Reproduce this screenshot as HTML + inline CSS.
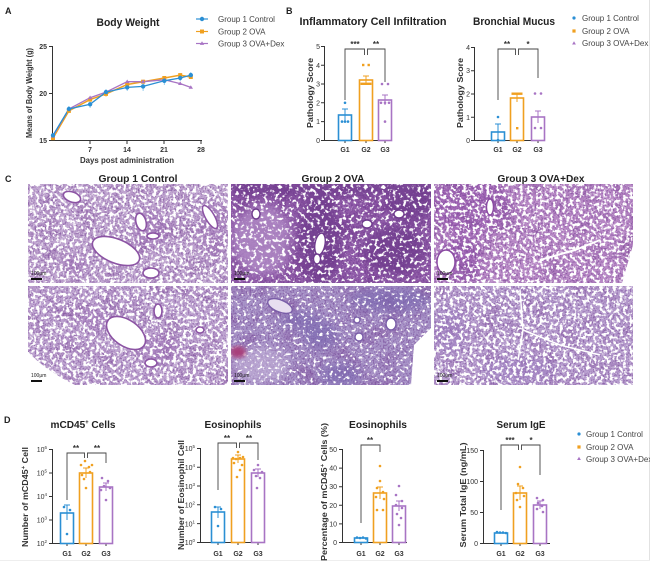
<!DOCTYPE html>
<html><head><meta charset="utf-8"><style>
html,body{margin:0;padding:0;background:#fff;}
svg{display:block;font-family:"Liberation Sans",sans-serif;}
.t{font-weight:bold;fill:#222;}
.tk{font-size:7px;fill:#333;}
.yl{font-size:8px;font-weight:bold;fill:#333;}
.lg{font-size:8px;fill:#444;}
.ax{stroke:#333;stroke-width:1;fill:none;}
.br{stroke:#444;stroke-width:0.9;fill:none;}
.st{font-size:8px;font-weight:bold;fill:#333;text-anchor:middle;}
.sb{font-size:5px;fill:#222;}
</style></head><body>
<svg width="650" height="561" viewBox="0 0 650 561" xmlns="http://www.w3.org/2000/svg">
<defs>
<filter id="hD" x="0" y="0" width="1" height="1" color-interpolation-filters="sRGB">
<feTurbulence type="fractalNoise" baseFrequency="0.3" numOctaves="2" seed="3"/>
<feColorMatrix type="matrix" values="0 0 0 0 1 0 0 0 0 1 0 0 0 0 1 8 0 0 0 -4.0"/>
</filter>
<filter id="hM" x="0" y="0" width="1" height="1" color-interpolation-filters="sRGB">
<feTurbulence type="fractalNoise" baseFrequency="0.28" numOctaves="2" seed="7"/>
<feColorMatrix type="matrix" values="0 0 0 0 1 0 0 0 0 1 0 0 0 0 1 8 0 0 0 -4.4"/>
</filter>
<filter id="hS" x="0" y="0" width="1" height="1" color-interpolation-filters="sRGB">
<feTurbulence type="fractalNoise" baseFrequency="0.3" numOctaves="2" seed="11"/>
<feColorMatrix type="matrix" values="0 0 0 0 1 0 0 0 0 1 0 0 0 0 1 8 0 0 0 -4.7"/>
</filter>
<filter id="grain" x="0" y="0" width="1" height="1" color-interpolation-filters="sRGB">
<feTurbulence type="fractalNoise" baseFrequency="0.6" numOctaves="1" seed="9"/>
<feColorMatrix type="matrix" values="0 0 0 0 0.42 0 0 0 0 0.22 0 0 0 0 0.55 5 0 0 0 -2.4"/>
</filter>
<filter id="mot" x="0" y="0" width="1" height="1" color-interpolation-filters="sRGB">
<feTurbulence type="fractalNoise" baseFrequency="0.05" numOctaves="3" seed="5"/>
<feColorMatrix type="matrix" values="0 0 0 0 0.45 0 0 0 0 0.22 0 0 0 0 0.55 3 0 0 0 -1.4"/>
</filter>
<filter id="bl"><feGaussianBlur stdDeviation="5"/></filter>
<filter id="bl2"><feGaussianBlur stdDeviation="2"/></filter>
<clipPath id="c1"><rect x="28" y="184" width="200" height="99"/></clipPath>
<clipPath id="c2"><rect x="231" y="184" width="200" height="99"/></clipPath>
<clipPath id="c3"><rect x="434" y="184" width="199" height="99"/></clipPath>
<clipPath id="c4"><rect x="28" y="286" width="200" height="99"/></clipPath>
<clipPath id="c5"><rect x="231" y="286" width="200" height="99"/></clipPath>
<clipPath id="c6"><rect x="434" y="286" width="199" height="99"/></clipPath>
</defs>

<!-- frame lines -->
<line x1="649.5" y1="0" x2="649.5" y2="561" stroke="#e2e2e2"/>
<line x1="0" y1="560.5" x2="650" y2="560.5" stroke="#eeeeee"/>

<!-- panel letters -->
<text x="5" y="14" class="t" font-size="9">A</text>
<text x="286" y="14" class="t" font-size="9">B</text>
<text x="5" y="182" class="t" font-size="9">C</text>
<text x="4" y="423" class="t" font-size="9">D</text>

<!-- ============ A: Body weight ============ -->
<text x="128" y="26" class="t" font-size="11" text-anchor="middle" textLength="63" lengthAdjust="spacingAndGlyphs">Body Weight</text>
<path class="ax" d="M52.5,46 V140.5 H202"/>
<path class="ax" d="M49,46.5 H52.5 M49,93.5 H52.5 M49,140.5 H52.5 M90,140.5 V144 M127,140.5 V144 M164,140.5 V144 M201,140.5 V144"/>
<g class="tk" text-anchor="end" font-weight="bold"><text x="47" y="49">25</text><text x="47" y="96">20</text><text x="47" y="143">15</text></g>
<g class="tk" text-anchor="middle" font-weight="bold"><text x="90" y="152">7</text><text x="127" y="152">14</text><text x="164" y="152">21</text><text x="201" y="152">28</text></g>
<text x="127" y="163" class="yl" font-size="7" text-anchor="middle" textLength="94" lengthAdjust="spacingAndGlyphs">Days post administration</text>
<text transform="translate(32,93) rotate(-90)" class="yl" font-size="7" text-anchor="middle" textLength="90" lengthAdjust="spacingAndGlyphs">Means of Body Weight (g)</text>
<g stroke="#7cc0ea" stroke-width="0.8">
<path d="M68.9,106 V112 M90.1,101 V108 M106,89 V95 M127.2,83 V91 M143.1,82 V91 M164.3,77 V85 M180.2,75 V81 M190.8,72 V78"/>
</g>
<g stroke="#f6c777" stroke-width="0.8"><path d="M90.1,97 V102 M106,91 V97 M164.3,76 V80 M180.2,73 V77"/></g>
<polyline fill="none" stroke="#f0a020" stroke-width="1.5" points="53,138.1 68.9,110.9 90.1,99.6 106,93.9 127.2,84.5 143.1,81.7 164.3,78 180.2,75.1 190.8,77"/>
<polyline fill="none" stroke="#a874c4" stroke-width="1.3" points="53,136.2 68.9,109 90.1,97.7 106,92.1 127.2,81.7 143.1,81.7 164.3,79.8 180.2,83.6 190.8,87.4"/>
<polyline fill="none" stroke="#2b8fd4" stroke-width="1.3" points="53,135.3 68.9,109 90.1,104.3 106,92.1 127.2,87.4 143.1,86.4 164.3,80.8 180.2,78 190.8,75.1"/>
<g fill="#f0a020"><rect x="51" y="136.1" width="4" height="4"/><rect x="66.9" y="108.9" width="4" height="4"/><rect x="88.1" y="97.6" width="4" height="4"/><rect x="104" y="91.9" width="4" height="4"/><rect x="125.2" y="82.5" width="4" height="4"/><rect x="141.1" y="79.7" width="4" height="4"/><rect x="162.3" y="76" width="4" height="4"/><rect x="178.2" y="73.1" width="4" height="4"/><rect x="188.8" y="75" width="4" height="4"/></g>
<g fill="#a874c4"><path d="M53,134 l2.2,3.6 h-4.4z M68.9,106.8 l2.2,3.6 h-4.4z M90.1,95.5 l2.2,3.6 h-4.4z M106,89.9 l2.2,3.6 h-4.4z M127.2,79.5 l2.2,3.6 h-4.4z M143.1,79.5 l2.2,3.6 h-4.4z M164.3,77.6 l2.2,3.6 h-4.4z M180.2,81.4 l2.2,3.6 h-4.4z M190.8,85.2 l2.2,3.6 h-4.4z"/></g>
<g fill="#2b8fd4"><circle cx="53" cy="135.3" r="2.2"/><circle cx="68.9" cy="109" r="2.2"/><circle cx="90.1" cy="104.3" r="2.2"/><circle cx="106" cy="92.1" r="2.2"/><circle cx="127.2" cy="87.4" r="2.2"/><circle cx="143.1" cy="86.4" r="2.2"/><circle cx="164.3" cy="80.8" r="2.2"/><circle cx="180.2" cy="78" r="2.2"/><circle cx="190.8" cy="75.1" r="2.2"/></g>
<line x1="196" y1="19" x2="208" y2="19" stroke="#2b8fd4" stroke-width="1.2"/><circle cx="202" cy="19" r="2.2" fill="#2b8fd4"/>
<line x1="196" y1="31.5" x2="208" y2="31.5" stroke="#f0a020" stroke-width="1.2"/><rect x="200" y="29.5" width="4" height="4" fill="#f0a020"/>
<line x1="196" y1="43.5" x2="208" y2="43.5" stroke="#a874c4" stroke-width="1.2"/><path d="M202,41.3 l2.2,3.6 h-4.4z" fill="#a874c4"/>
<g class="lg"><text x="218" y="22">Group 1 Control</text><text x="218" y="34.5">Group 2 OVA</text><text x="218" y="46.5">Group 3 OVA+Dex</text></g>

<!-- ============ B1 Inflammatory ============ -->
<text x="373" y="25" class="t" font-size="11" text-anchor="middle" textLength="147" lengthAdjust="spacingAndGlyphs">Inflammatory Cell Infiltration</text>
<path class="ax" d="M324.5,46 V140.5 H392"/>
<path class="ax" d="M321,46.5 H324.5 M321,65.2 H324.5 M321,84 H324.5 M321,102.8 H324.5 M321,121.6 H324.5 M321,140.5 H324.5 M345,140.5 V143 M366,140.5 V143 M385,140.5 V143"/>
<g class="tk" text-anchor="end"><text x="320" y="49">5</text><text x="320" y="68">4</text><text x="320" y="86.5">3</text><text x="320" y="105.5">2</text><text x="320" y="124">1</text><text x="320" y="143">0</text></g>
<g class="tk" text-anchor="middle" font-weight="bold"><text x="345" y="152">G1</text><text x="366" y="152">G2</text><text x="385" y="152">G3</text></g>
<text transform="translate(313,93) rotate(-90)" class="yl" font-size="9" text-anchor="middle" textLength="70" lengthAdjust="spacingAndGlyphs">Pathology Score</text>
<rect x="338.5" y="115" width="13" height="25.5" fill="none" stroke="#2b8fd4" stroke-width="1.6"/>
<rect x="359.5" y="80" width="13" height="60.5" fill="none" stroke="#f0a020" stroke-width="1.6"/>
<rect x="378.5" y="100" width="13" height="40.5" fill="none" stroke="#a874c4" stroke-width="1.6"/>
<path d="M345,109 V121 M342,109 H348" stroke="#2b8fd4" stroke-width="1"/>
<path d="M366,76 V84 M363,76 H369" stroke="#f0a020" stroke-width="1"/>
<path d="M385,95 V105 M382,95 H388" stroke="#a874c4" stroke-width="1"/>
<g fill="#2b8fd4"><circle cx="342" cy="121.6" r="1.3"/><circle cx="345" cy="121.6" r="1.3"/><circle cx="348" cy="121.6" r="1.3"/><circle cx="345" cy="102.8" r="1.3"/></g>
<g fill="#f0a020"><rect x="362" y="63.8" width="2.4" height="2.4"/><rect x="367.5" y="63.8" width="2.4" height="2.4"/><rect x="360.5" y="82.6" width="11" height="2.4"/></g>
<g fill="#a874c4"><circle cx="382" cy="84" r="1.3"/><circle cx="388" cy="84" r="1.3"/><circle cx="381" cy="102.8" r="1.3"/><circle cx="385" cy="102.8" r="1.3"/><circle cx="389" cy="102.8" r="1.3"/><circle cx="385" cy="121.6" r="1.3"/></g>
<path class="br" d="M345,100 V49 H364.5 V55 M367.5,55 V49 H385 V82"/>
<text x="355" y="47" class="st">***</text><text x="376" y="47" class="st">**</text>

<!-- ============ B2 Bronchial ============ -->
<text x="514" y="25" class="t" font-size="11" text-anchor="middle" textLength="82" lengthAdjust="spacingAndGlyphs">Bronchial Mucus</text>
<path class="ax" d="M474.5,47 V140.5 H545"/>
<path class="ax" d="M471,47.5 H474.5 M471,70.7 H474.5 M471,94 H474.5 M471,117.2 H474.5 M471,140.5 H474.5 M498,140.5 V143 M517,140.5 V143 M538,140.5 V143"/>
<g class="tk" text-anchor="end"><text x="470" y="50">4</text><text x="470" y="73">3</text><text x="470" y="96.5">2</text><text x="470" y="120">1</text><text x="470" y="143">0</text></g>
<g class="tk" text-anchor="middle" font-weight="bold"><text x="498" y="152">G1</text><text x="517" y="152">G2</text><text x="538" y="152">G3</text></g>
<text transform="translate(463,93) rotate(-90)" class="yl" font-size="9" text-anchor="middle" textLength="70" lengthAdjust="spacingAndGlyphs">Pathology Score</text>
<rect x="491.5" y="132" width="13" height="8.5" fill="none" stroke="#2b8fd4" stroke-width="1.6"/>
<rect x="510.5" y="98" width="13" height="42.5" fill="none" stroke="#f0a020" stroke-width="1.6"/>
<rect x="531.5" y="117" width="13" height="23.5" fill="none" stroke="#a874c4" stroke-width="1.6"/>
<path d="M498,124 V140 M495,124 H501" stroke="#2b8fd4" stroke-width="1"/>
<path d="M517,94 V102 M514,94 H520" stroke="#f0a020" stroke-width="1"/>
<path d="M538,111 V123 M535,111 H541" stroke="#a874c4" stroke-width="1"/>
<g fill="#2b8fd4"><circle cx="498" cy="117" r="1.3"/><circle cx="498" cy="140" r="1.3"/></g>
<g fill="#f0a020"><rect x="511.5" y="92.5" width="11" height="2.4"/><rect x="516" y="127" width="2.4" height="2.4"/></g>
<g fill="#a874c4"><circle cx="535" cy="93.5" r="1.3"/><circle cx="541" cy="93.5" r="1.3"/><circle cx="535" cy="128" r="1.3"/><circle cx="541" cy="128" r="1.3"/></g>
<path class="br" d="M498,100 V49 H515.5 V55 M518.5,55 V49 H538 V78"/>
<text x="507" y="47" class="st">**</text><text x="528" y="47" class="st">*</text>
<circle cx="574" cy="18" r="1.6" fill="#2b8fd4"/><rect x="572.4" y="29.4" width="3.2" height="3.2" fill="#f0a020"/><path d="M574,41.3 l1.9,3.2 h-3.8z" fill="#a874c4"/>
<g class="lg"><text x="582" y="21">Group 1 Control</text><text x="582" y="34">Group 2 OVA</text><text x="582" y="46">Group 3 OVA+Dex</text></g>

<!-- ============ C: histology ============ -->
<text x="138" y="182" class="t" font-size="10.5" text-anchor="middle" textLength="79" lengthAdjust="spacingAndGlyphs">Group 1 Control</text>
<text x="333" y="182" class="t" font-size="10.5" text-anchor="middle" textLength="63" lengthAdjust="spacingAndGlyphs">Group 2 OVA</text>
<text x="541" y="182" class="t" font-size="10.5" text-anchor="middle" textLength="87" lengthAdjust="spacingAndGlyphs">Group 3 OVA+Dex</text>

<!-- P1 top -->
<g clip-path="url(#c1)">
<rect x="28" y="184" width="200" height="99" fill="#c2a8d2"/>
<rect x="28" y="184" width="200" height="99" filter="url(#mot)" opacity="0.3"/>
<rect x="28" y="184" width="200" height="99" filter="url(#grain)" opacity="0.5"/>
<g filter="url(#bl)" fill="#9a6cb2" opacity="0.5"><ellipse cx="150" cy="230" rx="18" ry="20"/><ellipse cx="212" cy="230" rx="14" ry="30"/><ellipse cx="75" cy="265" rx="14" ry="10"/></g>
<rect x="28" y="184" width="200" height="99" filter="url(#hD)"/>
<g fill="#fff" stroke="#8c54a4" stroke-width="1.6">
<ellipse cx="116" cy="251" rx="25" ry="12" transform="rotate(22 116 251)"/>
<ellipse cx="141" cy="222" rx="5" ry="9" transform="rotate(-15 141 222)"/>
<ellipse cx="153" cy="236" rx="6" ry="3"/>
<ellipse cx="210" cy="217" rx="4.5" ry="13" transform="rotate(-30 210 217)"/>
<ellipse cx="151" cy="273" rx="8" ry="5"/>
<ellipse cx="72" cy="197" rx="9" ry="5" transform="rotate(20 72 197)"/>
</g>
<rect x="31" y="278" width="11" height="2" fill="#111"/><text x="31" y="275" class="sb">100μm</text>
</g>
<!-- P2 top -->
<g clip-path="url(#c2)">
<rect x="231" y="184" width="200" height="99" fill="#935fab"/>
<rect x="231" y="184" width="200" height="99" filter="url(#mot)" opacity="0.6"/>
<rect x="231" y="184" width="200" height="99" filter="url(#grain)" opacity="0.6"/>
<g filter="url(#bl)" fill="#6e3a8c" opacity="0.75"><rect x="231" y="182" width="200" height="14"/><ellipse cx="320" cy="240" rx="22" ry="45"/><ellipse cx="395" cy="250" rx="30" ry="25"/><ellipse cx="410" cy="205" rx="22" ry="16"/></g>
<g filter="url(#bl)" fill="#b894cc" opacity="0.7"><ellipse cx="262" cy="240" rx="30" ry="35"/></g>
<rect x="231" y="184" width="200" height="99" filter="url(#hM)"/>
<g fill="#fff" stroke="#6e3a8c" stroke-width="1.4">
<ellipse cx="320" cy="244" rx="5" ry="11" transform="rotate(10 320 244)"/>
<ellipse cx="317" cy="259" rx="3.5" ry="5"/>
<ellipse cx="399" cy="214" rx="5" ry="4"/>
<ellipse cx="367" cy="224" rx="5" ry="4"/>
<ellipse cx="256" cy="214" rx="4" ry="5"/>
</g>
<rect x="234" y="278" width="11" height="2" fill="#111"/><text x="234" y="275" class="sb">100μm</text>
</g>
<!-- P3 top -->
<g clip-path="url(#c3)">
<rect x="434" y="184" width="199" height="99" fill="#bb8cc8"/>
<g filter="url(#bl)" fill="#9a5cb0" opacity="0.7"><ellipse cx="470" cy="205" rx="40" ry="30"/><ellipse cx="460" cy="260" rx="22" ry="25"/></g>
<rect x="434" y="184" width="199" height="99" filter="url(#mot)" opacity="0.3"/>
<rect x="434" y="184" width="199" height="99" filter="url(#grain)" opacity="0.5"/>
<rect x="434" y="184" width="199" height="99" filter="url(#hD)"/>
<g fill="#fff" stroke="#8a4aa2" stroke-width="1.4">
<ellipse cx="446" cy="262" rx="9" ry="12"/>
<ellipse cx="490" cy="207" rx="3.5" ry="8"/>
</g>
<path d="M633,245 L622,283 H633z" fill="#fff"/>
<path d="M540,260 L575,250 L600,240" stroke="#fff" stroke-width="2" fill="none"/>
<rect x="437" y="278" width="11" height="2" fill="#111"/><text x="437" y="275" class="sb">100μm</text>
</g>
<!-- P1 bottom -->
<g clip-path="url(#c4)">
<rect x="28" y="286" width="200" height="99" fill="#c0a6d2"/>
<rect x="28" y="286" width="200" height="99" filter="url(#mot)" opacity="0.3"/>
<rect x="28" y="286" width="200" height="99" filter="url(#grain)" opacity="0.5"/>
<g filter="url(#bl)" fill="#9a6cb2" opacity="0.45"><ellipse cx="95" cy="320" rx="20" ry="12"/><ellipse cx="160" cy="350" rx="20" ry="15"/></g>
<rect x="28" y="286" width="200" height="99" filter="url(#hD)"/>
<g fill="#fff" stroke="#8c54a4" stroke-width="1.6">
<ellipse cx="126" cy="333" rx="22" ry="13" transform="rotate(35 126 333)"/>
<ellipse cx="158" cy="311" rx="4" ry="7"/>
<ellipse cx="151" cy="363" rx="6" ry="4"/>
<ellipse cx="200" cy="330" rx="4" ry="3"/>
</g>
<path d="M28,352 Q45,370 75,385 H28z" fill="#fff"/>
<rect x="31" y="380" width="11" height="2" fill="#111"/><text x="31" y="377" class="sb">100μm</text>
</g>
<!-- P2 bottom -->
<g clip-path="url(#c5)">
<rect x="231" y="286" width="200" height="99" fill="#a894c8"/>
<rect x="231" y="286" width="200" height="99" filter="url(#mot)" opacity="0.35"/>
<rect x="231" y="286" width="200" height="99" filter="url(#grain)" opacity="0.5"/>
<g filter="url(#bl)" fill="#7a68b0" opacity="0.65"><ellipse cx="320" cy="335" rx="18" ry="14"/><ellipse cx="340" cy="375" rx="20" ry="12"/><ellipse cx="300" cy="320" rx="20" ry="8"/><ellipse cx="390" cy="300" rx="40" ry="12"/></g>
<g filter="url(#bl)" fill="#c8b8dc" opacity="0.6"><ellipse cx="260" cy="365" rx="28" ry="18"/></g>
<rect x="231" y="286" width="200" height="99" filter="url(#hS)"/>
<g filter="url(#bl2)"><ellipse cx="238" cy="352" rx="8" ry="6" fill="#a8407c"/></g>
<g fill="#fff" stroke="#7a5ea8" stroke-width="1.4">
<ellipse cx="280" cy="306" rx="13" ry="6" transform="rotate(22 280 306)" fill="#e8def0"/>
<ellipse cx="359" cy="337" rx="4" ry="4"/>
<ellipse cx="391" cy="324" rx="5" ry="6"/>
<ellipse cx="357" cy="320" rx="3" ry="3"/>
</g>
<path d="M431,328 L414,345 L411,385 H431z" fill="#fff"/>
<rect x="234" y="380" width="11" height="2" fill="#111"/><text x="234" y="377" class="sb">100μm</text>
</g>
<!-- P3 bottom -->
<g clip-path="url(#c6)">
<rect x="434" y="286" width="199" height="99" fill="#b9a0d0"/>
<rect x="434" y="286" width="199" height="99" filter="url(#mot)" opacity="0.25"/>
<rect x="434" y="286" width="199" height="99" filter="url(#grain)" opacity="0.5"/>
<g filter="url(#bl)" fill="#9a7ac0" opacity="0.45"><ellipse cx="520" cy="370" rx="40" ry="12"/><ellipse cx="450" cy="330" rx="15" ry="25"/></g>
<rect x="434" y="286" width="199" height="99" filter="url(#hD)"/>
<path d="M520,290 L523,330 L518,360 M523,330 L560,345 L600,355" stroke="#fff" stroke-width="1.5" fill="none"/>
<rect x="437" y="380" width="11" height="2" fill="#111"/><text x="437" y="377" class="sb">100μm</text>
</g>

<!-- ============ D1 mCD45 ============ -->
<text x="83" y="428" class="t" font-size="10.5" text-anchor="middle" textLength="65" lengthAdjust="spacingAndGlyphs">mCD45<tspan font-size="6" dy="-4">+</tspan><tspan dy="4"> Cells</tspan></text>
<path class="ax" d="M52.5,449 V543.5 H113"/>
<path class="ax" d="M49,449.5 H52.5 M49,473 H52.5 M49,496.5 H52.5 M49,520 H52.5 M49,543.5 H52.5 M67,543.5 V546 M86,543.5 V546 M106,543.5 V546"/>
<g class="tk" text-anchor="end" font-size="6.5"><text x="47" y="452">10<tspan font-size="4.5" dy="-3">6</tspan></text><text x="47" y="475.5">10<tspan font-size="4.5" dy="-3">5</tspan></text><text x="47" y="499">10<tspan font-size="4.5" dy="-3">4</tspan></text><text x="47" y="522.5">10<tspan font-size="4.5" dy="-3">3</tspan></text><text x="47" y="546">10<tspan font-size="4.5" dy="-3">2</tspan></text></g>
<g class="tk" text-anchor="middle" font-weight="bold"><text x="67" y="556">G1</text><text x="86" y="556">G2</text><text x="106" y="556">G3</text></g>
<text transform="translate(28,497) rotate(-90)" class="yl" font-size="8.5" text-anchor="middle" textLength="100" lengthAdjust="spacingAndGlyphs">Number of mCD45<tspan font-size="5.5" dy="-3">+</tspan><tspan dy="3"> Cell</tspan></text>
<rect x="60.5" y="513" width="13" height="30.5" fill="none" stroke="#2b8fd4" stroke-width="1.6"/>
<rect x="79.5" y="473" width="13" height="70.5" fill="none" stroke="#f0a020" stroke-width="1.6"/>
<rect x="99.5" y="487" width="13" height="56.5" fill="none" stroke="#a874c4" stroke-width="1.6"/>
<path d="M67,505 V520 M64,505 H70" stroke="#2b8fd4"/><path d="M86,468 V478 M83,468 H89" stroke="#f0a020"/><path d="M106,483 V491 M103,483 H109" stroke="#a874c4"/>
<g fill="#2b8fd4"><circle cx="64" cy="507" r="1.3"/><circle cx="70" cy="510" r="1.3"/><circle cx="67" cy="534" r="1.3"/></g>
<g fill="#f0a020"><circle cx="81" cy="465" r="1.3"/><circle cx="85" cy="461" r="1.3"/><circle cx="89" cy="467" r="1.3"/><circle cx="92" cy="465" r="1.3"/><circle cx="82" cy="475" r="1.3"/><circle cx="90" cy="472" r="1.3"/><circle cx="86" cy="488" r="1.3"/><circle cx="84" cy="479" r="1.3"/></g>
<g fill="#a874c4"><circle cx="102" cy="478" r="1.3"/><circle cx="108" cy="481" r="1.3"/><circle cx="104" cy="486" r="1.3"/><circle cx="110" cy="488" r="1.3"/><circle cx="106" cy="500" r="1.3"/><circle cx="101" cy="490" r="1.3"/></g>
<path class="br" d="M67,500 V453 H84.5 V458 M87.5,458 V453 H106 V463"/>
<text x="76" y="451" class="st">**</text><text x="97" y="451" class="st">**</text>

<!-- ============ D2 Eosinophils count ============ -->
<text x="233" y="428" class="t" font-size="10.5" text-anchor="middle" textLength="57" lengthAdjust="spacingAndGlyphs">Eosinophils</text>
<path class="ax" d="M200.5,448 V542.5 H265"/>
<path class="ax" d="M197,448.5 H200.5 M197,467.3 H200.5 M197,486 H200.5 M197,504.8 H200.5 M197,523.6 H200.5 M197,542.5 H200.5 M218,542.5 V545 M238,542.5 V545 M258,542.5 V545"/>
<g class="tk" text-anchor="end" font-size="6.5"><text x="195" y="451">10<tspan font-size="4.5" dy="-3">5</tspan></text><text x="195" y="470">10<tspan font-size="4.5" dy="-3">4</tspan></text><text x="195" y="489">10<tspan font-size="4.5" dy="-3">3</tspan></text><text x="195" y="507.5">10<tspan font-size="4.5" dy="-3">2</tspan></text><text x="195" y="526.5">10<tspan font-size="4.5" dy="-3">1</tspan></text><text x="195" y="545">10<tspan font-size="4.5" dy="-3">0</tspan></text></g>
<g class="tk" text-anchor="middle" font-weight="bold"><text x="218" y="556">G1</text><text x="238" y="556">G2</text><text x="258" y="556">G3</text></g>
<text transform="translate(184,495) rotate(-90)" class="yl" font-size="8.5" text-anchor="middle" textLength="110" lengthAdjust="spacingAndGlyphs">Number of Eosinophil Cell</text>
<rect x="211.5" y="512" width="13" height="30.5" fill="none" stroke="#2b8fd4" stroke-width="1.6"/>
<rect x="231.5" y="459" width="13" height="83.5" fill="none" stroke="#f0a020" stroke-width="1.6"/>
<rect x="251.5" y="473" width="13" height="69.5" fill="none" stroke="#a874c4" stroke-width="1.6"/>
<path d="M218,507 V518 M215,507 H221" stroke="#2b8fd4"/><path d="M238,455 V463 M235,455 H241" stroke="#f0a020"/><path d="M258,469 V477 M255,469 H261" stroke="#a874c4"/>
<g fill="#2b8fd4"><circle cx="215" cy="507" r="1.3"/><circle cx="221" cy="509" r="1.3"/><circle cx="218" cy="526" r="1.3"/></g>
<g fill="#f0a020"><circle cx="238" cy="452" r="1.3"/><circle cx="233" cy="458" r="1.3"/><circle cx="236" cy="459" r="1.3"/><circle cx="240" cy="458" r="1.3"/><circle cx="243" cy="457" r="1.3"/><circle cx="234" cy="463" r="1.3"/><circle cx="242" cy="465" r="1.3"/><circle cx="237" cy="477" r="1.3"/><circle cx="240" cy="470" r="1.3"/></g>
<g fill="#a874c4"><circle cx="258" cy="465" r="1.3"/><circle cx="254" cy="470" r="1.3"/><circle cx="262" cy="472" r="1.3"/><circle cx="256" cy="476" r="1.3"/><circle cx="260" cy="478" r="1.3"/><circle cx="257" cy="488" r="1.3"/></g>
<path class="br" d="M218,490 V443 H236.5 V448 M239.5,448 V443 H258 V460"/>
<text x="227" y="441" class="st">**</text><text x="249" y="441" class="st">**</text>

<!-- ============ D3 Eosinophils % ============ -->
<text x="378" y="428" class="t" font-size="10.5" text-anchor="middle" textLength="58" lengthAdjust="spacingAndGlyphs">Eosinophils</text>
<path class="ax" d="M342.5,449 V542.5 H407"/>
<path class="ax" d="M339,449.5 H342.5 M339,468.1 H342.5 M339,486.7 H342.5 M339,505.3 H342.5 M339,523.9 H342.5 M339,542.5 H342.5 M361,542.5 V545 M380,542.5 V545 M399,542.5 V545"/>
<g class="tk" text-anchor="end"><text x="337" y="452">50</text><text x="337" y="470.6">40</text><text x="337" y="489.2">30</text><text x="337" y="507.8">20</text><text x="337" y="526.4">10</text><text x="337" y="545">0</text></g>
<g class="tk" text-anchor="middle" font-weight="bold"><text x="361" y="556">G1</text><text x="380" y="556">G2</text><text x="399" y="556">G3</text></g>
<text transform="translate(327,492) rotate(-90)" class="yl" font-size="8.5" text-anchor="middle" textLength="138" lengthAdjust="spacingAndGlyphs">Percentage of mCD45<tspan font-size="5.5" dy="-3">+</tspan><tspan dy="3"> Cells (%)</tspan></text>
<rect x="354.5" y="538" width="13" height="4.5" fill="none" stroke="#2b8fd4" stroke-width="1.6"/>
<rect x="373.5" y="493" width="13" height="49.5" fill="none" stroke="#f0a020" stroke-width="1.6"/>
<rect x="392.5" y="506" width="13" height="36.5" fill="none" stroke="#a874c4" stroke-width="1.6"/>
<path d="M380,487 V499 M377,487 H383" stroke="#f0a020"/><path d="M399,501 V511 M396,501 H402" stroke="#a874c4"/>
<g fill="#2b8fd4"><circle cx="357" cy="537.5" r="1.3"/><circle cx="360" cy="538" r="1.3"/><circle cx="363" cy="537.5" r="1.3"/><circle cx="366" cy="538.5" r="1.3"/></g>
<g fill="#f0a020"><circle cx="380" cy="466" r="1.3"/><circle cx="380" cy="481" r="1.3"/><circle cx="377" cy="488" r="1.3"/><circle cx="383" cy="492" r="1.3"/><circle cx="376" cy="497" r="1.3"/><circle cx="384" cy="499" r="1.3"/><circle cx="377" cy="510" r="1.3"/><circle cx="383" cy="510" r="1.3"/></g>
<g fill="#a874c4"><circle cx="399" cy="486" r="1.3"/><circle cx="396" cy="495" r="1.3"/><circle cx="402" cy="501" r="1.3"/><circle cx="396" cy="505" r="1.3"/><circle cx="402" cy="508" r="1.3"/><circle cx="397" cy="514" r="1.3"/><circle cx="401" cy="518" r="1.3"/><circle cx="399" cy="525" r="1.3"/></g>
<path class="br" d="M361,523 V445 H380 V452"/>
<text x="370" y="443" class="st">**</text>

<!-- ============ D4 Serum IgE ============ -->
<text x="521" y="428" class="t" font-size="10.5" text-anchor="middle" textLength="49" lengthAdjust="spacingAndGlyphs">Serum IgE</text>
<path class="ax" d="M483.5,450 V543.5 H550"/>
<path class="ax" d="M480,450.5 H483.5 M480,481.5 H483.5 M480,512.5 H483.5 M480,543.5 H483.5 M501,543.5 V546 M520,543.5 V546 M540,543.5 V546"/>
<g class="tk" text-anchor="end"><text x="478" y="453">150</text><text x="478" y="484">100</text><text x="478" y="515">50</text><text x="478" y="546">0</text></g>
<g class="tk" text-anchor="middle" font-weight="bold"><text x="501" y="556">G1</text><text x="520" y="556">G2</text><text x="540" y="556">G3</text></g>
<text transform="translate(466,495) rotate(-90)" class="yl" font-size="8.5" text-anchor="middle" textLength="105" lengthAdjust="spacingAndGlyphs">Serum Total IgE (ng/mL)</text>
<rect x="494.5" y="533" width="13" height="10.5" fill="none" stroke="#2b8fd4" stroke-width="1.6"/>
<rect x="513.5" y="493" width="13" height="50.5" fill="none" stroke="#f0a020" stroke-width="1.6"/>
<rect x="533.5" y="505" width="13" height="38.5" fill="none" stroke="#a874c4" stroke-width="1.6"/>
<path d="M520,486 V500 M517,486 H523" stroke="#f0a020"/><path d="M540,501 V509 M537,501 H543" stroke="#a874c4"/>
<g fill="#2b8fd4"><circle cx="497" cy="532" r="1.3"/><circle cx="500" cy="532.5" r="1.3"/><circle cx="503" cy="532.5" r="1.3"/><circle cx="506" cy="533" r="1.3"/></g>
<g fill="#f0a020"><circle cx="520" cy="467" r="1.3"/><circle cx="518" cy="484" r="1.3"/><circle cx="523" cy="488" r="1.3"/><circle cx="516" cy="493" r="1.3"/><circle cx="524" cy="496" r="1.3"/><circle cx="517" cy="500" r="1.3"/><circle cx="520" cy="507" r="1.3"/></g>
<g fill="#a874c4"><circle cx="537" cy="498" r="1.3"/><circle cx="543" cy="500" r="1.3"/><circle cx="538" cy="503" r="1.3"/><circle cx="542" cy="506" r="1.3"/><circle cx="537" cy="509" r="1.3"/><circle cx="543" cy="512" r="1.3"/></g>
<path class="br" d="M501,510 V445 H518.5 V450 M521.5,450 V445 H540 V475"/>
<text x="510" y="443" class="st">***</text><text x="531" y="443" class="st">*</text>
<circle cx="579" cy="434" r="1.6" fill="#2b8fd4"/><rect x="577.4" y="445.4" width="3.2" height="3.2" fill="#f0a020"/><path d="M579,456.8 l1.9,3.2 h-3.8z" fill="#a874c4"/>
<g class="lg"><text x="586" y="437">Group 1 Control</text><text x="586" y="450">Group 2 OVA</text><text x="586" y="462">Group 3 OVA+Dex</text></g>
</svg>
</body></html>
